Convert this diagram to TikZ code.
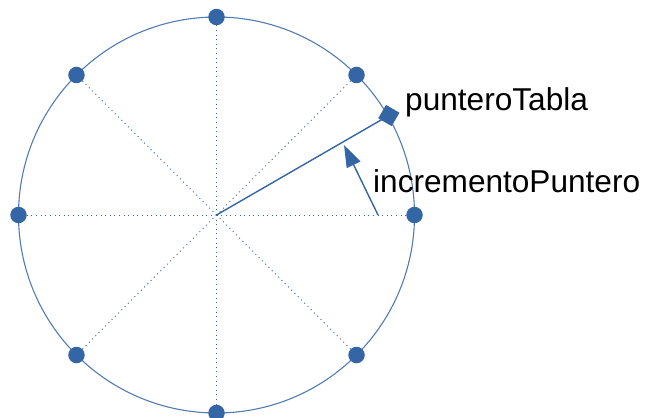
\documentclass[tikz,border=0pt]{standalone}
\usepackage{fontspec}
\setmainfont{Liberation Sans}
\usetikzlibrary{arrows.meta,calc}
\definecolor{lo}{RGB}{52,101,164}
\begin{document}
\begin{tikzpicture}[x=1pt,y=-1pt,
  ring/.style={draw=lo!85!white,line width=1.1pt},
  spoke/.style={draw=lo,line width=0.9pt,dash pattern=on 1pt off 3.6pt},
  dotnode/.style={circle,fill=lo,inner sep=0pt,minimum size=16.5pt},
  lbl/.style={font=\fontsize{31.6}{38}\selectfont,inner sep=0pt,anchor=base west}]
\useasboundingbox (0,0) rectangle (646,418);
\coordinate (c) at (216.5,215);
\draw[ring] (c) circle[radius=198];
\foreach \a/\n in {0/d0,45/d45,90/d90,135/d135,180/d180,225/d225,270/d270,315/d315}{
  \draw[spoke] (c) -- ($(c)+({198*cos(\a)},{-198*sin(\a)})$) node[dotnode] (\n) {};
}
\coordinate (ptr) at ($(c)+({199*cos(30)},{-199*sin(30)})$);
\draw[draw=lo,line width=1.4pt] (c) -- (ptr);
\node[fill=lo,rotate=-30,minimum size=15.5pt,inner sep=0pt] (sq) at (ptr) {};
\coordinate (a0) at (378,215);
\coordinate (a1) at (344,145);
\draw[draw=lo,line width=1.4pt,-{Triangle[length=22pt,width=15pt]}] (a0) -- (a1);
\node[lbl] (t1) at (405,110) {punteroTabla};
\node[lbl] (t2) at (373,192) {incrementoPuntero};
\end{tikzpicture}
\end{document}
